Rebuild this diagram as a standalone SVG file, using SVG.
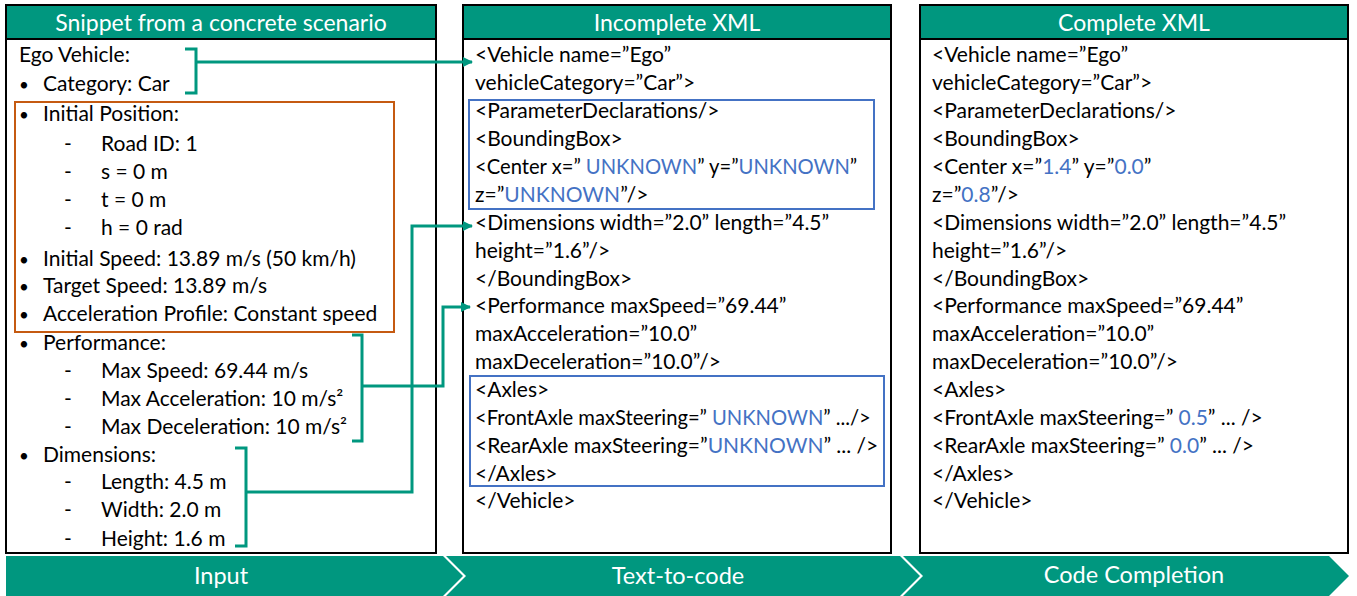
<svg xmlns="http://www.w3.org/2000/svg" width="1357" height="596" viewBox="0 0 1357 596">
<style>
.frame{fill:#fff;stroke:#000;stroke-width:2}
.hdr{fill:#00977F}
.hline{stroke:#000;stroke-width:2}
.ht{font-family:Lato,"Liberation Sans",sans-serif;font-size:23px;fill:#fff;text-anchor:middle}
.t{font-family:Lato,"Liberation Sans",sans-serif;font-size:21px;fill:#000}
.s{font-size:20.2px}
.bu{font-family:Lato,"Liberation Sans",sans-serif;font-size:17px;fill:#000}
.b{fill:#4472C4}
.blue{fill:none;stroke:#4472C4;stroke-width:2}
.orange{fill:none;stroke:#C55A11;stroke-width:2}
.con{fill:none;stroke:#00977F;stroke-width:3}
.chev{fill:#00977F}
.ct{font-family:Lato,"Liberation Sans",sans-serif;font-size:23.5px;fill:#fff;text-anchor:middle}
</style>
<defs>
<marker id="ah" markerWidth="10" markerHeight="10" refX="9" refY="5" orient="auto" markerUnits="userSpaceOnUse" viewBox="0 0 10 10">
<path d="M0,0 L10,5 L0,10 z" fill="#00977F"/>
</marker>
</defs>

<g id="stage-input">
<polygon class="chev" points="6,556 443,556 463,576 443,596 6,596"/>
<text class="ct" x="221" y="584">Input</text>
</g>
<g id="stage-text-to-code">
<polygon class="chev" points="446,556 900,556 920,576 900,596 446,596 466,576"/>
<text class="ct" x="678" y="584">Text-to-code</text>
</g>
<g id="stage-code-completion">
<polygon class="chev" points="903,556 1329,556 1349,576 1329,596 903,596 923,576"/>
<text class="ct" x="1134" y="583">Code Completion</text>
</g>

<g id="panel-input">
<rect class="frame" x="6" y="5" width="430" height="548"/>
<rect class="hdr" x="7" y="6" width="428" height="32"/>
<line class="hline" x1="6" y1="39" x2="436" y2="39"/>
<text class="ht" x="221" y="31">Snippet from a concrete scenario</text>
<rect class="orange" x="15" y="102" width="379" height="230"/>
<text class="t" x="19" y="62">Ego Vehicle:</text>
<text class="bu" x="19" y="91">•</text><text class="t" x="43" y="91">Category: Car</text>
<text class="bu" x="19" y="121">•</text><text class="t" x="43" y="121">Initial Position:</text>
<text class="t" x="64" y="151">-</text><text class="t" x="101" y="151">Road ID: 1</text>
<text class="t" x="64" y="179">-</text><text class="t" x="101" y="179">s = 0 m</text>
<text class="t" x="64" y="207">-</text><text class="t" x="101" y="207">t = 0 m</text>
<text class="t" x="64" y="235">-</text><text class="t" x="101" y="235">h = 0 rad</text>
<text class="bu" x="19" y="266">•</text><text class="t" x="43" y="266">Initial Speed: 13.89 m/s (50 km/h)</text>
<text class="bu" x="19" y="293">•</text><text class="t" x="43" y="293">Target Speed: 13.89 m/s</text>
<text class="bu" x="19" y="321">•</text><text class="t" x="43" y="321">Acceleration Profile: Constant speed</text>
<text class="bu" x="19" y="350">•</text><text class="t" x="43" y="350">Performance:</text>
<text class="t" x="64" y="378">-</text><text class="t" x="101" y="378">Max Speed: 69.44 m/s</text>
<text class="t" x="64" y="406">-</text><text class="t" x="101" y="406">Max Acceleration: 10 m/s²</text>
<text class="t" x="64" y="434">-</text><text class="t" x="101" y="434">Max Deceleration: 10 m/s²</text>
<text class="bu" x="19" y="462">•</text><text class="t" x="43" y="462">Dimensions:</text>
<text class="t" x="64" y="489">-</text><text class="t" x="101" y="489">Length: 4.5 m</text>
<text class="t" x="64" y="517">-</text><text class="t" x="101" y="517">Width: 2.0 m</text>
<text class="t" x="64" y="546">-</text><text class="t" x="101" y="546">Height: 1.6 m</text>
</g>

<g id="panel-incomplete">
<rect class="frame" x="463" y="5" width="428" height="548"/>
<rect class="hdr" x="464" y="6" width="426" height="32"/>
<line class="hline" x1="463" y1="39" x2="891" y2="39"/>
<text class="ht" x="677" y="31">Incomplete XML</text>
<rect class="blue" x="469" y="100" width="405" height="109"/>
<rect class="blue" x="470" y="376" width="414" height="110"/>
<text class="t" x="475" y="62">&lt;Vehicle name=”Ego”</text>
<text class="t" x="475" y="90">vehicleCategory=”Car”&gt;</text>
<text class="t" x="475" y="118">&lt;ParameterDeclarations/&gt;</text>
<text class="t" x="475" y="146">&lt;BoundingBox&gt;</text>
<text class="t s" x="475" y="174">&lt;Center x=” <tspan class="b">UNKNOWN</tspan>” y=”<tspan class="b">UNKNOWN</tspan>”</text>
<text class="t" x="475" y="202">z=”<tspan class="b">UNKNOWN</tspan>”/&gt;</text>
<text class="t" x="475" y="230">&lt;Dimensions width=”2.0” length=”4.5”</text>
<text class="t" x="475" y="258">height=”1.6”/&gt;</text>
<text class="t" x="475" y="286">&lt;/BoundingBox&gt;</text>
<text class="t" x="475" y="313">&lt;Performance maxSpeed=”69.44”</text>
<text class="t" x="475" y="341">maxAcceleration=”10.0”</text>
<text class="t" x="475" y="369">maxDeceleration=”10.0”/&gt;</text>
<text class="t" x="475" y="397">&lt;Axles&gt;</text>
<text class="t s" x="475" y="425">&lt;FrontAxle maxSteering=” <tspan class="b">UNKNOWN</tspan>” .../&gt;</text>
<text class="t" x="475" y="453">&lt;RearAxle maxSteering=”<tspan class="b">UNKNOWN</tspan>” ... /&gt;</text>
<text class="t" x="475" y="481">&lt;/Axles&gt;</text>
<text class="t" x="475" y="508">&lt;/Vehicle&gt;</text>
</g>

<g id="panel-complete">
<rect class="frame" x="920" y="5" width="428" height="548"/>
<rect class="hdr" x="921" y="6" width="426" height="32"/>
<line class="hline" x1="920" y1="39" x2="1348" y2="39"/>
<text class="ht" x="1134" y="31">Complete XML</text>
<text class="t" x="932" y="62">&lt;Vehicle name=”Ego”</text>
<text class="t" x="932" y="90">vehicleCategory=”Car”&gt;</text>
<text class="t" x="932" y="118">&lt;ParameterDeclarations/&gt;</text>
<text class="t" x="932" y="146">&lt;BoundingBox&gt;</text>
<text class="t" x="932" y="174">&lt;Center x=”<tspan class="b">1.4</tspan>” y=”<tspan class="b">0.0</tspan>”</text>
<text class="t" x="932" y="202">z=”<tspan class="b">0.8</tspan>”/&gt;</text>
<text class="t" x="932" y="230">&lt;Dimensions width=”2.0” length=”4.5”</text>
<text class="t" x="932" y="258">height=”1.6”/&gt;</text>
<text class="t" x="932" y="286">&lt;/BoundingBox&gt;</text>
<text class="t" x="932" y="313">&lt;Performance maxSpeed=”69.44”</text>
<text class="t" x="932" y="341">maxAcceleration=”10.0”</text>
<text class="t" x="932" y="369">maxDeceleration=”10.0”/&gt;</text>
<text class="t" x="932" y="397">&lt;Axles&gt;</text>
<text class="t" x="932" y="425">&lt;FrontAxle maxSteering=” <tspan class="b">0.5</tspan>” ... /&gt;</text>
<text class="t" x="932" y="453">&lt;RearAxle maxSteering=” <tspan class="b">0.0</tspan>” ... /&gt;</text>
<text class="t" x="932" y="481">&lt;/Axles&gt;</text>
<text class="t" x="932" y="508">&lt;/Vehicle&gt;</text>
</g>

<g id="connectors">
<path class="con" d="M185,49 H196 V93 H185"/>
<path class="con" d="M196,62 H472" marker-end="url(#ah)"/>
<path class="con" d="M352,335 H362 V441 H352"/>
<path class="con" d="M362,386 H443 V307 H470" marker-end="url(#ah)"/>
<path class="con" d="M235,448 H246 V546 H235"/>
<path class="con" d="M246,492 H412 V226 H472" marker-end="url(#ah)"/>
</g>
</svg>
